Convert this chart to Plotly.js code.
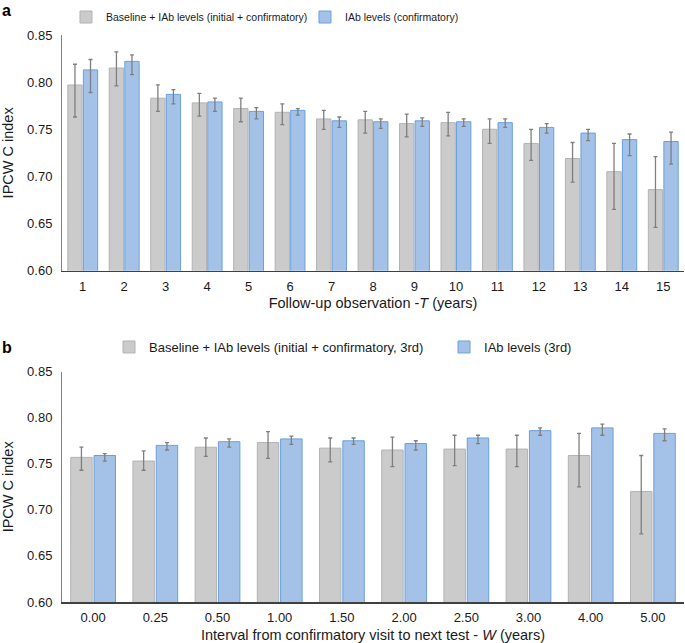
<!DOCTYPE html>
<html>
<head>
<meta charset="utf-8">
<script src="https://cdn.plot.ly/plotly-3.0.1.min.js"></script>
<style>html,body{margin:0;padding:0;background:#fff;}#chart{width:685px;height:643px;}</style>
</head>
<body>
<div id="chart"></div>
<script>
// ---- Panel a data: follow-up observation T (years)
var yearsT = ['1','2','3','4','5','6','7','8','9','10','11','12','13','14','15'];
var grayA    = [0.797, 0.815, 0.783, 0.778, 0.772, 0.768, 0.761, 0.760, 0.756, 0.757, 0.750, 0.735, 0.719, 0.705, 0.686];
var grayA_hi = [0.819, 0.832, 0.797, 0.788, 0.783, 0.777, 0.770, 0.769, 0.766, 0.768, 0.761, 0.750, 0.736, 0.735, 0.721];
var grayA_lo = [0.763, 0.796, 0.769, 0.764, 0.758, 0.755, 0.750, 0.746, 0.742, 0.743, 0.735, 0.717, 0.694, 0.665, 0.646];
var blueA    = [0.813, 0.822, 0.787, 0.779, 0.769, 0.770, 0.759, 0.758, 0.759, 0.758, 0.757, 0.752, 0.746, 0.739, 0.737];
var blueA_hi = [0.824, 0.829, 0.792, 0.783, 0.773, 0.772, 0.763, 0.761, 0.762, 0.761, 0.761, 0.756, 0.750, 0.745, 0.747];
var blueA_lo = [0.789, 0.808, 0.777, 0.769, 0.761, 0.765, 0.752, 0.751, 0.753, 0.753, 0.752, 0.746, 0.738, 0.722, 0.713];

// ---- Panel b data: interval to next test W (years)
var intervalW = ['0.00','0.25','0.50','1.00','1.50','2.00','2.50','3.00','4.00','5.00'];
var grayB    = [0.757, 0.753, 0.768, 0.773, 0.767, 0.765, 0.766, 0.766, 0.759, 0.720];
var grayB_hi = [0.768, 0.764, 0.778, 0.785, 0.778, 0.779, 0.781, 0.781, 0.783, 0.759];
var grayB_lo = [0.743, 0.743, 0.758, 0.756, 0.752, 0.747, 0.748, 0.747, 0.725, 0.674];
var blueB    = [0.759, 0.770, 0.774, 0.777, 0.775, 0.772, 0.778, 0.786, 0.789, 0.783];
var blueB_hi = [0.761, 0.773, 0.777, 0.780, 0.778, 0.775, 0.781, 0.789, 0.793, 0.788];
var blueB_lo = [0.753, 0.765, 0.768, 0.771, 0.771, 0.765, 0.772, 0.781, 0.781, 0.775];

var seriesNames = {
  grayA: 'Baseline + IAb levels (initial + confirmatory)',
  blueA: 'IAb levels (confirmatory)',
  grayB: 'Baseline + IAb levels (initial + confirmatory, 3rd)',
  blueB: 'IAb levels (3rd)'
};

function diff(a, b) { return a.map(function (v, i) { return +(v - b[i]).toFixed(4); }); }

var GRAY = '#cbcbcb', GRAY_LINE = '#b3b3b3';
var BLUE = '#a4c2e8', BLUE_LINE = '#6b9fdc';
var ERR = '#7f7f7f';

function barTrace(x, y, hi, lo, name, fill, line, xa, ya, legend, lw) {
  return {
    type: 'bar', x: x, y: y, name: name,
    xaxis: xa, yaxis: ya, legend: legend, legendwidth: lw,
    marker: { color: fill, line: { color: line, width: 1 } },
    error_y: { type: 'data', symmetric: false, array: diff(hi, y), arrayminus: diff(y, lo),
               color: ERR, thickness: 1.3, width: 2 }
  };
}

var data = [
  barTrace(yearsT, grayA, grayA_hi, grayA_lo, seriesNames.grayA, GRAY, GRAY_LINE, 'x', 'y', 'legend', 194),
  barTrace(yearsT, blueA, blueA_hi, blueA_lo, seriesNames.blueA, BLUE, BLUE_LINE, 'x', 'y', 'legend', 120),
  barTrace(intervalW, grayB, grayB_hi, grayB_lo, seriesNames.grayB, GRAY, GRAY_LINE, 'x2', 'y2', 'legend2', 290),
  barTrace(intervalW, blueB, blueB_hi, blueB_lo, seriesNames.blueB, BLUE, BLUE_LINE, 'x2', 'y2', 'legend2', 100)
];

var FONT = 'Liberation Sans, Arial, Helvetica, sans-serif';

function yAxis(domain, anchor) {
  return {
    domain: domain, anchor: anchor, range: [0.6, 0.85], dtick: 0.05, tick0: 0.6,
    tickformat: '.2f', showgrid: false, zeroline: false,
    showline: true, linecolor: '#808080', linewidth: 1, ticks: '',
    ticklabelstandoff: 6,
    tickfont: { size: 13, color: '#1a1a1a' },
    title: { text: 'IPCW C index', font: { size: 14.5, color: '#1a1a1a' }, standoff: 10 },
    automargin: false, fixedrange: true
  };
}
function xAxis(anchor, titleText, standoff) {
  return {
    anchor: anchor, domain: [0, 1], type: 'category',
    showgrid: false, zeroline: false, showline: true, linecolor: '#404040', linewidth: 1.5,
    ticks: '', ticklabelstandoff: 3,
    tickfont: { size: 13, color: '#1a1a1a' },
    title: { text: titleText, font: { size: 14.5, color: '#1a1a1a' }, standoff: standoff },
    automargin: false, fixedrange: true
  };
}

var layout = {
  width: 685, height: 643,
  margin: { l: 62, r: 1, t: 35, b: 41, pad: 0 },
  paper_bgcolor: '#ffffff', plot_bgcolor: '#ffffff',
  font: { family: FONT, color: '#1a1a1a' },
  barmode: 'group', bargap: 0.25, bargroupgap: 0.08,
  xaxis: xAxis('y', 'Follow-up observation -<i>T</i> (years)', 5),
  yaxis: yAxis([0.5843, 1], 'x'),
  xaxis2: xAxis('y2', 'Interval from confirmatory visit to next test - <i>W</i> (years)', 7),
  yaxis2: yAxis([0, 0.4062], 'x2'),
  showlegend: true,
  legend: {
    orientation: 'h', x: 0.0064, xanchor: 'left', y: 1.0317, yanchor: 'middle',
    font: { family: FONT, size: 10.5, color: '#1a1a1a' },
    bgcolor: 'rgba(0,0,0,0)', itemwidth: 30,
    traceorder: 'normal', itemclick: false, itemdoubleclick: false
  },
  legend2: {
    orientation: 'h', x: 0.0756, xanchor: 'left', y: 0.4497, yanchor: 'middle',
    font: { family: FONT, size: 13, color: '#1a1a1a' },
    bgcolor: 'rgba(0,0,0,0)', itemwidth: 30,
    traceorder: 'normal', itemclick: false, itemdoubleclick: false
  },
  annotations: [
    { text: '<b>a</b>', xref: 'paper', yref: 'paper', x: -0.0885, y: 1.0617, xanchor: 'center', yanchor: 'top',
      showarrow: false, font: { size: 16, family: FONT, color: '#000' } },
    { text: '<b>b</b>', xref: 'paper', yref: 'paper', x: -0.0885, y: 0.4497, xanchor: 'center', yanchor: 'middle',
      showarrow: false, font: { size: 16, family: FONT, color: '#000' } }
  ]
};

Plotly.newPlot('chart', data, layout, { displayModeBar: false, staticPlot: true });
</script>
</body>
</html>
